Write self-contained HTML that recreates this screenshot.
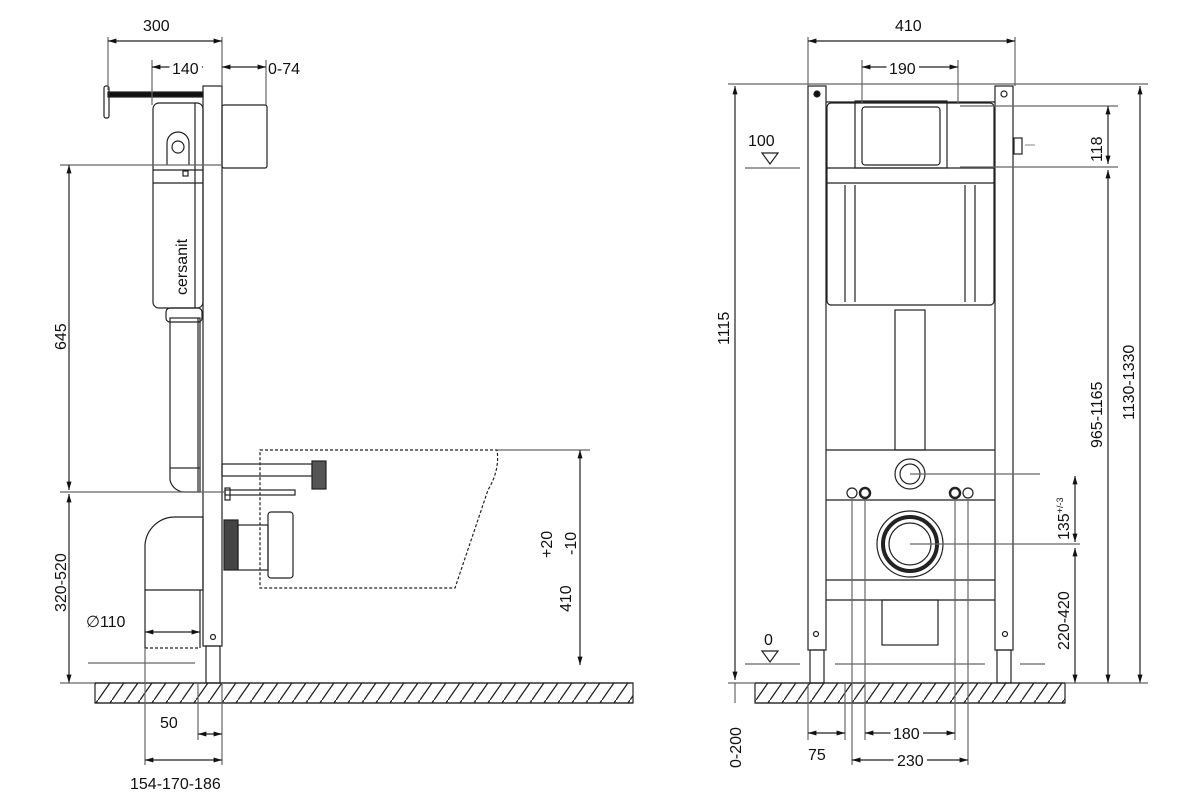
<!DOCTYPE html>
<html><head><meta charset="utf-8"><style>
html,body{margin:0;padding:0;background:#fff;}
svg{display:block;}
text{font-family:"Liberation Sans",sans-serif;font-size:16px;fill:#111;font-weight:500;}
.w{stroke:#fff;stroke-width:8px;paint-order:stroke;}
</style></head><body>
<svg width="1200" height="800" viewBox="0 0 1200 800" xmlns="http://www.w3.org/2000/svg">
<defs>
<marker id="a" viewBox="0 0 10 10" refX="10" refY="5" markerWidth="9" markerHeight="7" orient="auto-start-reverse"><path d="M0,2 L10,5 L0,8 z" fill="#111"/></marker>
<pattern id="h" width="14" height="20" patternUnits="userSpaceOnUse"><line x1="0" y1="20" x2="14" y2="0" stroke="#222" stroke-width="1.3"/></pattern>
</defs>
<g stroke="#222" stroke-width="1.2" fill="none">
<rect x="95" y="683" width="538" height="20" fill="url(#h)"/>
<line x1="95" y1="683" x2="633" y2="683"/><line x1="95" y1="703" x2="633" y2="703"/>
<rect x="203" y="86" width="19" height="560" fill="#fff"/>
<rect x="206" y="646" width="14" height="37"/>
<rect x="108" y="92" width="95" height="5" fill="#111"/>
<rect x="104" y="86" width="5" height="32" rx="2"/>
<rect x="222" y="105" width="45" height="63" rx="2"/>
<rect x="153" y="103" width="50" height="205" rx="6"/>
<line x1="153" y1="170" x2="203" y2="170"/><line x1="153" y1="183" x2="203" y2="183"/>
<line x1="195" y1="103" x2="195" y2="308"/>
<path d="M167,165 L167,143 a11,11 0 0 1 22,0 L189,165"/><circle cx="178" cy="147" r="6"/>
<rect x="183" y="171" width="5" height="5"/>
<rect x="170" y="318" width="30" height="150"/>
<rect x="166" y="308" width="36" height="14" rx="4"/>
<path d="M170,468 L170,480 a15,15 0 0 0 15,12 L200,492 L200,468"/>
<line x1="198" y1="318" x2="198" y2="492"/>
<path d="M145,590 L145,545 a30,30 0 0 1 30,-28 L203,517 L203,590 Z"/>
<line x1="145" y1="590" x2="145" y2="648"/><line x1="200" y1="590" x2="200" y2="648"/>
<line x1="145" y1="648" x2="200" y2="648" stroke-dasharray="3,2"/>
<rect x="222" y="464" width="90" height="12"/>
<rect x="312" y="461" width="14" height="28" fill="#555"/>
<rect x="225" y="490" width="70" height="5"/>
<rect x="225" y="488" width="5" height="12"/>
<rect x="224" y="520" width="14" height="50" fill="#444"/>
<rect x="238" y="525" width="30" height="45"/>
<rect x="268" y="512" width="25" height="66" rx="3"/>
<path d="M260,450 L497,450 Q500,470 488,490 L455,588 L260,588 Z" stroke-dasharray="3,2"/>
<circle cx="213" cy="637" r="2.5"/>
<line x1="108" y1="37" x2="108" y2="90" stroke="#666"/><line x1="222" y1="37" x2="222" y2="86" stroke="#666"/>
<line x1="108" y1="41" x2="222" y2="41" marker-start="url(#a)" marker-end="url(#a)"/>
<line x1="152" y1="60" x2="152" y2="105" stroke="#666"/><line x1="266" y1="60" x2="266" y2="105" stroke="#666"/>
<line x1="152" y1="67" x2="203" y2="67" marker-start="url(#a)" marker-end="url(#a)"/>
<line x1="222" y1="67" x2="266" y2="67" marker-start="url(#a)" marker-end="url(#a)"/>
<line x1="60" y1="165" x2="222" y2="165" stroke="#666"/>
<line x1="60" y1="492" x2="225" y2="492" stroke="#666"/>
<line x1="69" y1="165" x2="69" y2="490" marker-start="url(#a)" marker-end="url(#a)"/>
<line x1="69" y1="494" x2="69" y2="683" marker-start="url(#a)" marker-end="url(#a)"/>
<line x1="60" y1="683" x2="95" y2="683" stroke="#666"/>
<line x1="88" y1="663" x2="195" y2="663" stroke="#666"/>
<line x1="497" y1="450" x2="590" y2="450" stroke="#666"/>
<line x1="580" y1="450" x2="580" y2="665" marker-start="url(#a)" marker-end="url(#a)"/>
<line x1="145" y1="632" x2="200" y2="632" marker-start="url(#a)" marker-end="url(#a)"/>
<line x1="145" y1="648" x2="145" y2="765" stroke="#666"/><line x1="198" y1="683" x2="198" y2="740" stroke="#666"/><line x1="222" y1="683" x2="222" y2="765" stroke="#666"/>
<line x1="198" y1="734" x2="222" y2="734" marker-start="url(#a)" marker-end="url(#a)"/>
<line x1="145" y1="760" x2="222" y2="760" marker-start="url(#a)" marker-end="url(#a)"/>

<rect x="755" y="683" width="310" height="20" fill="url(#h)"/>
<line x1="755" y1="683" x2="1065" y2="683"/><line x1="755" y1="703" x2="1065" y2="703"/>
<rect x="808" y="86" width="18" height="564"/><rect x="995" y="86" width="18" height="564"/>
<rect x="810" y="650" width="14" height="33"/><rect x="997" y="650" width="14" height="33"/>
<line x1="826" y1="102" x2="995" y2="102"/>
<circle cx="817" cy="94" r="3" fill="#111"/><circle cx="1004" cy="94" r="3"/>
<rect x="827" y="103" width="167" height="202" rx="4"/>
<line x1="827" y1="168" x2="994" y2="168"/><line x1="827" y1="183" x2="994" y2="183"/>
<rect x="855" y="101" width="92" height="67"/>
<rect x="862" y="107" width="78" height="58" rx="3"/>
<line x1="845" y1="185" x2="845" y2="302"/><line x1="855" y1="185" x2="855" y2="302"/>
<line x1="965" y1="185" x2="965" y2="302"/><line x1="975" y1="185" x2="975" y2="302"/>
<rect x="895" y="310" width="30" height="140"/>
<rect x="1014" y="138" width="8" height="16"/>
<line x1="826" y1="450" x2="995" y2="450"/><line x1="826" y1="500" x2="995" y2="500"/>
<line x1="826" y1="580" x2="995" y2="580"/><line x1="826" y1="600" x2="995" y2="600"/>
<circle cx="910" cy="474" r="15"/><circle cx="910" cy="474" r="10"/>
<circle cx="852" cy="493" r="5"/><circle cx="865" cy="493" r="5" stroke-width="2.5"/>
<circle cx="955" cy="493" r="5" stroke-width="2.5"/><circle cx="968" cy="493" r="5"/>
<circle cx="910" cy="544" r="33"/><circle cx="910" cy="544" r="27" stroke-width="4"/><circle cx="910" cy="544" r="21"/>
<rect x="882" y="600" width="56" height="45"/>
<circle cx="816" cy="634" r="2.5"/><circle cx="1005" cy="634" r="2.5"/>
<line x1="808" y1="37" x2="808" y2="86" stroke="#666"/><line x1="1015" y1="37" x2="1015" y2="86" stroke="#666"/>
<line x1="808" y1="41" x2="1015" y2="41" marker-start="url(#a)" marker-end="url(#a)"/>
<line x1="862" y1="60" x2="862" y2="103" stroke="#666"/><line x1="958" y1="60" x2="958" y2="103" stroke="#666"/>
<line x1="862" y1="67" x2="958" y2="67" marker-start="url(#a)" marker-end="url(#a)"/>
<line x1="728" y1="84" x2="1148" y2="84" stroke="#666"/>
<line x1="735" y1="86" x2="735" y2="680" marker-start="url(#a)" marker-end="url(#a)"/>
<line x1="1140" y1="86" x2="1140" y2="683" marker-start="url(#a)" marker-end="url(#a)"/>
<line x1="960" y1="106" x2="1118" y2="106" stroke="#666"/><line x1="960" y1="167" x2="1118" y2="167" stroke="#666"/>
<line x1="1108" y1="106" x2="1108" y2="164" marker-start="url(#a)" marker-end="url(#a)"/>
<line x1="1108" y1="170" x2="1108" y2="683" marker-start="url(#a)" marker-end="url(#a)"/>
<line x1="1025" y1="145" x2="1035" y2="145" stroke="#999"/>
<line x1="745" y1="168" x2="800" y2="168" stroke="#666"/>
<path d="M762,153 L778,153 L770,164 Z"/>
<line x1="745" y1="664" x2="800" y2="664" stroke="#666"/>
<path d="M762,651 L778,651 L770,662 Z"/>
<line x1="835" y1="664" x2="985" y2="664" stroke="#666"/><line x1="1020" y1="664" x2="1045" y2="664" stroke="#666"/>
<line x1="910" y1="474" x2="1040" y2="474" stroke="#666"/>
<line x1="910" y1="544" x2="1080" y2="544" stroke="#666"/>
<line x1="1075" y1="476" x2="1075" y2="542" marker-start="url(#a)" marker-end="url(#a)"/>
<line x1="1075" y1="548" x2="1075" y2="683" marker-start="url(#a)" marker-end="url(#a)"/>
<line x1="1065" y1="683" x2="1148" y2="683" stroke="#666"/>
<line x1="728" y1="683" x2="755" y2="683" stroke="#666"/>
<line x1="808" y1="683" x2="808" y2="740" stroke="#666"/><line x1="845" y1="683" x2="845" y2="740" stroke="#666"/>
<line x1="852" y1="500" x2="852" y2="765" stroke="#666"/><line x1="865" y1="500" x2="865" y2="740" stroke="#666"/>
<line x1="955" y1="500" x2="955" y2="740" stroke="#666"/><line x1="968" y1="500" x2="968" y2="765" stroke="#666"/>
<line x1="808" y1="733" x2="845" y2="733" marker-start="url(#a)" marker-end="url(#a)"/>
<line x1="865" y1="733" x2="955" y2="733" marker-start="url(#a)" marker-end="url(#a)"/>
<line x1="852" y1="760" x2="968" y2="760" marker-start="url(#a)" marker-end="url(#a)"/>
<line x1="735" y1="683" x2="735" y2="703" stroke="#666"/>
</g>
<g>
<text x="143" y="31">300</text>
<text x="172" y="74" class="w">140</text>
<text x="268" y="74">0-74</text>
<text transform="translate(187,295) rotate(-90)" font-size="22">cersanit</text>
<text transform="translate(66,350) rotate(-90)">645</text>
<text transform="translate(66,612) rotate(-90)">320-520</text>
<text x="86" y="627">∅110</text>
<text x="160" y="728">50</text>
<text x="130" y="789">154-170-186</text>
<text transform="translate(571,612) rotate(-90)">410</text>
<text transform="translate(552,558) rotate(-90)">+20</text>
<text transform="translate(576,555) rotate(-90)">-10</text>
<text x="895" y="31">410</text>
<text x="889" y="74" class="w">190</text>
<text x="748" y="146">100</text>
<text x="764" y="645">0</text>
<text transform="translate(729,345) rotate(-90)">1115</text>
<text transform="translate(1102,162) rotate(-90)">118</text>
<text transform="translate(1102,448) rotate(-90)">965-1165</text>
<text transform="translate(1134,420) rotate(-90)">1130-1330</text>
<text transform="translate(1069,540) rotate(-90)">135<tspan font-size="9" dy="-6">+/-3</tspan></text>
<text transform="translate(1069,650) rotate(-90)">220-420</text>
<text x="808" y="760">75</text>
<text x="893" y="739" class="w">180</text>
<text x="897" y="766" class="w">230</text>
<text transform="translate(741,768) rotate(-90)">0-200</text>
</g>
</svg>
</body></html>
